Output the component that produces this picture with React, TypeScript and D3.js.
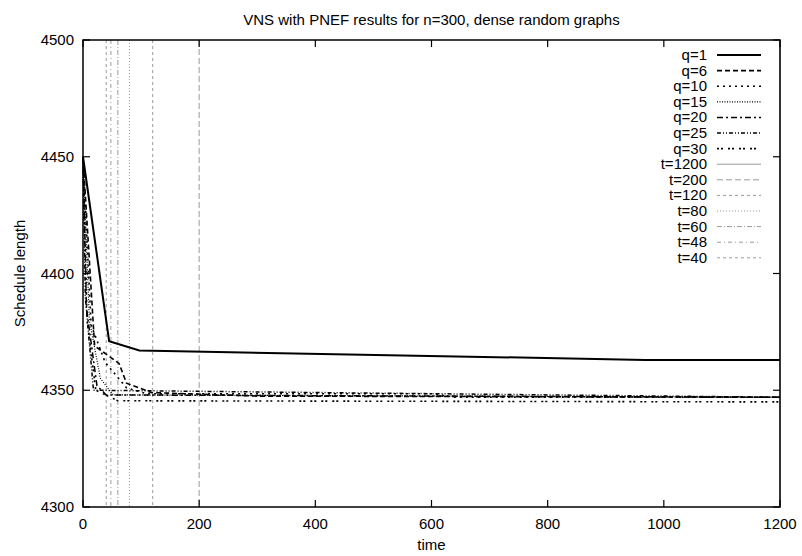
import React from "react";
import * as d3 from "d3";

const title = "VNS with PNEF results for n=300, dense random graphs";
const xTicks = [0, 200, 400, 600, 800, 1000, 1200];
const yTicks = [4300, 4350, 4400, 4450, 4500];

const qNames = ["q=1", "q=6", "q=10", "q=15", "q=20", "q=25", "q=30"];
const q1: [number, number][] = [[0, 4450], [45, 4371], [97, 4367], [968, 4363], [1200, 4363]];
const q6: [number, number][] = [[0, 4450], [20, 4369], [62, 4361.5], [75, 4353], [118, 4349], [300, 4347.5], [1200, 4347]];
const q10: [number, number][] = [[0, 4450], [14, 4378], [38, 4362], [75, 4351], [110, 4348.5], [600, 4348.5], [640, 4347], [1200, 4347]];
const q15: [number, number][] = [[0, 4450], [11, 4380], [30, 4355], [52, 4348], [1200, 4347]];
const q20: [number, number][] = [[0, 4450], [6, 4385], [24, 4352], [40, 4348], [1200, 4347]];
const q25: [number, number][] = [[0, 4450], [4, 4390], [18, 4350], [1200, 4347]];
const q30: [number, number][] = [[0, 4450], [7, 4380], [22, 4350], [60, 4345.5], [1200, 4345]];
const qSeries = [q1, q6, q10, q15, q20, q25, q30];
const qDash = ["", "5,3", "2,4", "1,1.5", "6,3,2,3", "4,2,1,2,1,2", "2,2,2,5"];
const qWidth = [2, 1.6, 1.6, 1.2, 1.5, 1.5, 1.6];

const tNames = ["t=1200", "t=200", "t=120", "t=80", "t=60", "t=48", "t=40"];
const tValues = [1200, 200, 120, 80, 60, 48, 40];
const tDash = ["", "6,3", "3,3", "1,2", "5,2,1,2", "4,3,1,3", "3,3"];

export default function App() {
  const W = 802, H = 556;
  const left = 83, right = 780, top = 40, bottom = 507;
  const x = d3.scaleLinear().domain([0, 1200]).range([left, right]);
  const y = d3.scaleLinear().domain([4300, 4500]).range([bottom, top]);
  const line = d3.line<[number, number]>().x(d => x(d[0])).y(d => y(d[1]));
  const font = "'Liberation Sans', Arial, sans-serif";
  const fs = 15;
  const tickLen = 7;
  const legendNames = [...qNames, ...tNames];
  const legY0 = 55, legStep = 15.6;
  return (
    <svg width={W} height={H} style={{ position: "absolute", left: 0, top: 0 }} fontFamily={font}>
      <rect x={0} y={0} width={W} height={H} fill="white" />
      <text x={(left + right) / 2} y={25} textAnchor="middle" fontSize={fs}>{title}</text>
      {tValues.map((t, i) => (
        <line key={"t" + i} x1={x(t)} x2={x(t)} y1={top} y2={bottom} stroke="#9a9a9a" strokeWidth={1} strokeDasharray={tDash[i]} />
      ))}
      {qSeries.map((s, i) => (
        <path key={"q" + i} d={line(s) || ""} fill="none" stroke="#000" strokeWidth={qWidth[i]} strokeDasharray={qDash[i]} />
      ))}
      <rect x={left} y={top} width={right - left} height={bottom - top} fill="none" stroke="#000" strokeWidth={1.5} />
      {xTicks.map(t => (
        <g key={"xt" + t}>
          <line x1={x(t)} x2={x(t)} y1={bottom} y2={bottom - tickLen} stroke="#000" strokeWidth={1.2} />
          <line x1={x(t)} x2={x(t)} y1={top} y2={top + tickLen} stroke="#000" strokeWidth={1.2} />
          <text x={x(t)} y={bottom + 22} textAnchor="middle" fontSize={fs}>{t}</text>
        </g>
      ))}
      {yTicks.map(t => (
        <g key={"yt" + t}>
          <line x1={left} x2={left + tickLen} y1={y(t)} y2={y(t)} stroke="#000" strokeWidth={1.2} />
          <line x1={right} x2={right - tickLen} y1={y(t)} y2={y(t)} stroke="#000" strokeWidth={1.2} />
          <text x={74} y={y(t) + 5} textAnchor="end" fontSize={fs}>{t}</text>
        </g>
      ))}
      <text x={(left + right) / 2} y={550} textAnchor="middle" fontSize={fs}>time</text>
      <text transform={`translate(25,${(top + bottom) / 2}) rotate(-90)`} textAnchor="middle" fontSize={fs}>Schedule length</text>
      {legendNames.map((n, i) => {
        const yy = legY0 + i * legStep;
        const isQ = i < qNames.length;
        const j = isQ ? i : i - qNames.length;
        return (
          <g key={"lg" + i}>
            <text x={707} y={yy + 5} textAnchor="end" fontSize={fs}>{n}</text>
            <line x1={717} x2={761} y1={yy} y2={yy}
              stroke={isQ ? "#000" : "#9a9a9a"}
              strokeWidth={isQ ? qWidth[j] : 1}
              strokeDasharray={isQ ? qDash[j] : tDash[j]} />
          </g>
        );
      })}
    </svg>
  );
}
